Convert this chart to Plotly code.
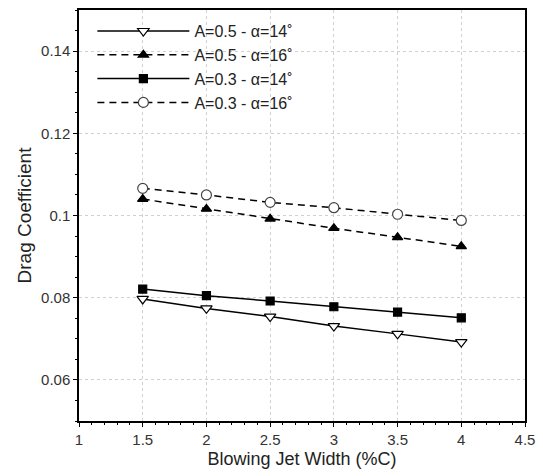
import plotly.graph_objects as go

x_width = [1.5, 2, 2.5, 3, 3.5, 4]
cd_a05_a14 = [0.0797, 0.0774, 0.0754, 0.0731, 0.0712, 0.0692]
cd_a05_a16 = [0.1040, 0.1016, 0.0992, 0.0969, 0.0947, 0.0925]
cd_a03_a14 = [0.0821, 0.0805, 0.0792, 0.0778, 0.0765, 0.0751]
cd_a03_a16 = [0.1066, 0.1050, 0.1032, 0.1019, 0.1003, 0.0988]

x_ticks = [1, 1.5, 2, 2.5, 3, 3.5, 4, 4.5]
x_tick_text = ["1", "1.5", "2", "2.5", "3", "3.5", "4", "4.5"]
y_ticks = [0.06, 0.08, 0.1, 0.12, 0.14]
y_tick_text = ["0.06", "0.08", "0.1", "0.12", "0.14"]

series = [
    ("A=0.5 - α=14˚", cd_a05_a14, "solid", "triangle-down", "white", "black", 10),
    ("A=0.5 - α=16˚", cd_a05_a16, "dash", "triangle-up", "black", "black", 9),
    ("A=0.3 - α=14˚", cd_a03_a14, "solid", "square", "black", "black", 8),
    ("A=0.3 - α=16˚", cd_a03_a16, "dash", "circle", "white", "#444444", 10),
]

FONT = "Liberation Sans, Arial, sans-serif"

fig = go.Figure()
for name, ys, dash, sym, fill, edge, msize in series:
    fig.add_trace(go.Scatter(
        x=x_width, y=ys, name=name, mode="lines+markers",
        line=dict(color="black", width=1.5, dash="7px,5px" if dash == "dash" else "solid"),
        marker=dict(symbol=sym, size=msize, color=fill,
                    line=dict(color=edge, width=1.2)),
    ))

fig.update_xaxes(
    range=[1, 4.5], tickmode="array", tickvals=x_ticks, ticktext=x_tick_text,
    showline=True, linecolor="black", linewidth=1.5, mirror=True,
    ticks="outside", ticklen=4, tickcolor="black",
    showgrid=True, gridcolor="#d0d0d0", griddash="dot", gridwidth=1, zeroline=False,
    tickfont=dict(family=FONT, size=15, color="#333"),
    minor=dict(dtick=0.1, tick0=1, ticks="outside", ticklen=2, tickcolor="black", showgrid=False),
    title=dict(text="Blowing Jet Width (%C)", font=dict(family=FONT, size=18, color="#222"), standoff=6),
)
fig.update_yaxes(
    range=[0.05, 0.15], tickmode="array", tickvals=y_ticks, ticktext=y_tick_text,
    showline=True, linecolor="black", linewidth=1.5, mirror=True,
    ticks="outside", ticklen=4, tickcolor="black",
    showgrid=True, gridcolor="#d0d0d0", griddash="dot", gridwidth=1, zeroline=False,
    tickfont=dict(family=FONT, size=15, color="#333"),
    minor=dict(dtick=0.005, tick0=0.05, ticks="outside", ticklen=2, tickcolor="black", showgrid=False),
    title=dict(text="Drag Coefficient", font=dict(family=FONT, size=19, color="#222"), standoff=4),
)

fig.update_layout(
    width=543, height=476,
    margin=dict(l=79, r=15, t=8, b=55),
    plot_bgcolor="white", paper_bgcolor="white",
    legend=dict(x=0.03, y=0.99, xanchor="left", yanchor="top",
                bgcolor="rgba(0,0,0,0)", font=dict(family=FONT, size=16, color="#222"),
                itemwidth=92, tracegroupgap=0),
    font=dict(family=FONT),
)

fig.write_html("out.html")
